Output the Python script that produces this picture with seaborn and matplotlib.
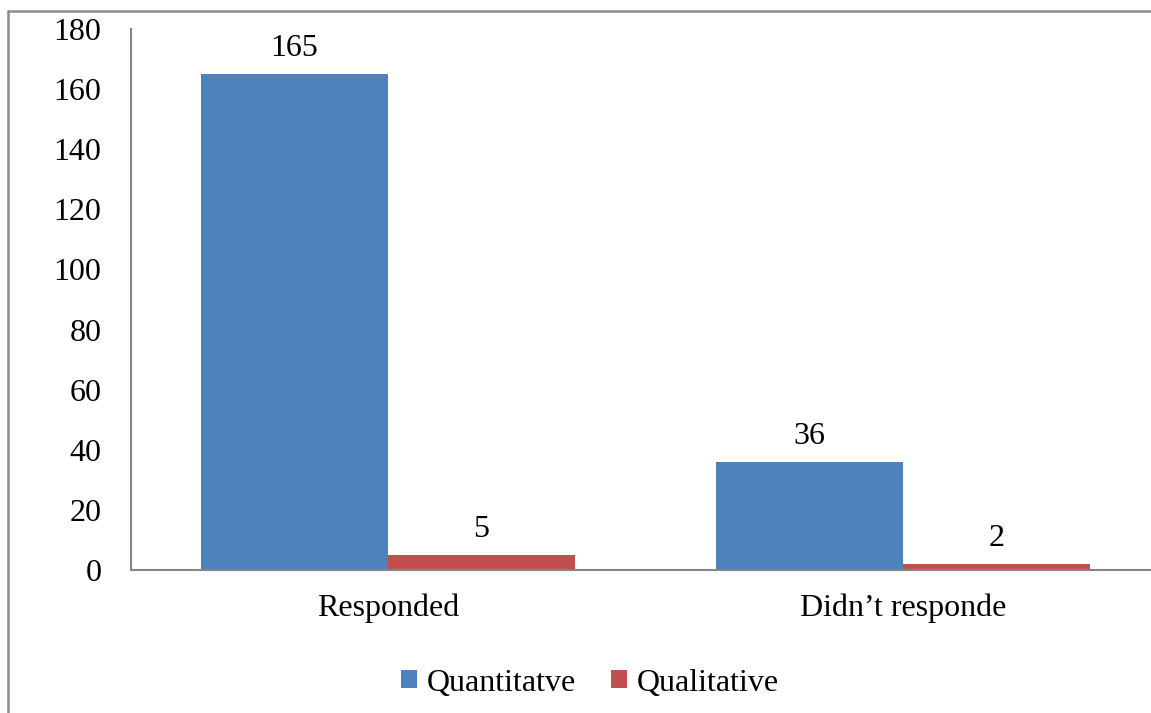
import pandas as pd
import matplotlib.pyplot as plt
import seaborn as sns
from matplotlib.lines import Line2D

# Data
categories = ["Responded", "Didn\u2019t responde"]
series_names = ["Quantitatve", "Qualitative"]
quantitative = [165, 36]
qualitative = [5, 2]
y_ticks = [0, 20, 40, 60, 80, 100, 120, 140, 160, 180]

df = pd.DataFrame({
    "category": categories * 2,
    "series": [series_names[0]] * 2 + [series_names[1]] * 2,
    "value": quantitative + qualitative,
})

sns.set_style("white")
plt.rcParams["font.family"] = ["Liberation Serif", "DejaVu Serif"]
plt.rcParams["text.color"] = "black"
plt.rcParams["xtick.color"] = "black"
plt.rcParams["ytick.color"] = "black"

FS = 23

W, H = 1151, 713
fig = plt.figure(figsize=(W / 100, H / 100), dpi=100)
# axes placed in pixel terms (right edge runs past the picture, as in the reference)
ax = fig.add_axes([130.5 / W, (H - 570) / H, 1030 / W, 541 / H])

sns.barplot(data=df, x="category", y="value", hue="series",
            palette=["#4F81BD", "#C0504D"], width=0.726,
            linewidth=0, saturation=1, ax=ax)

for cont in ax.containers:
    ax.bar_label(cont, fmt="%d", padding=8, fontsize=FS, color="black")

ax.set_ylim(0, 180)
ax.set_yticks(y_ticks)
ax.set_xlim(-0.5, 1.5)
ax.set_xlabel("")
ax.set_ylabel("")
ax.tick_params(axis="y", length=0, pad=21, labelsize=FS, labelcolor="black")
ax.tick_params(axis="x", length=0, pad=17, labelsize=FS, labelcolor="black")
sns.despine(ax=ax, top=True, right=True)
for s in ["left", "bottom"]:
    ax.spines[s].set_color("#868686")
    ax.spines[s].set_linewidth(1.5)

handles, labels = ax.get_legend_handles_labels()
ax.legend_.remove()
fig.legend(handles, labels, loc="center", bbox_to_anchor=(590 / W, 1 - 683 / H),
           ncol=2, frameon=False, fontsize=FS, handlelength=0.5,
           handleheight=0.5, handletextpad=0.3, columnspacing=1.1)

# outer chart border (only left and top edges visible)
fig.add_artist(Line2D([8 / W, 8 / W], [0, 1 - 11 / H], transform=fig.transFigure,
                      color="#8c8c8c", lw=1.8))
fig.add_artist(Line2D([8 / W, 1], [1 - 11 / H, 1 - 11 / H], transform=fig.transFigure,
                      color="#8c8c8c", lw=1.8))

fig.savefig("out.png", dpi=100)
